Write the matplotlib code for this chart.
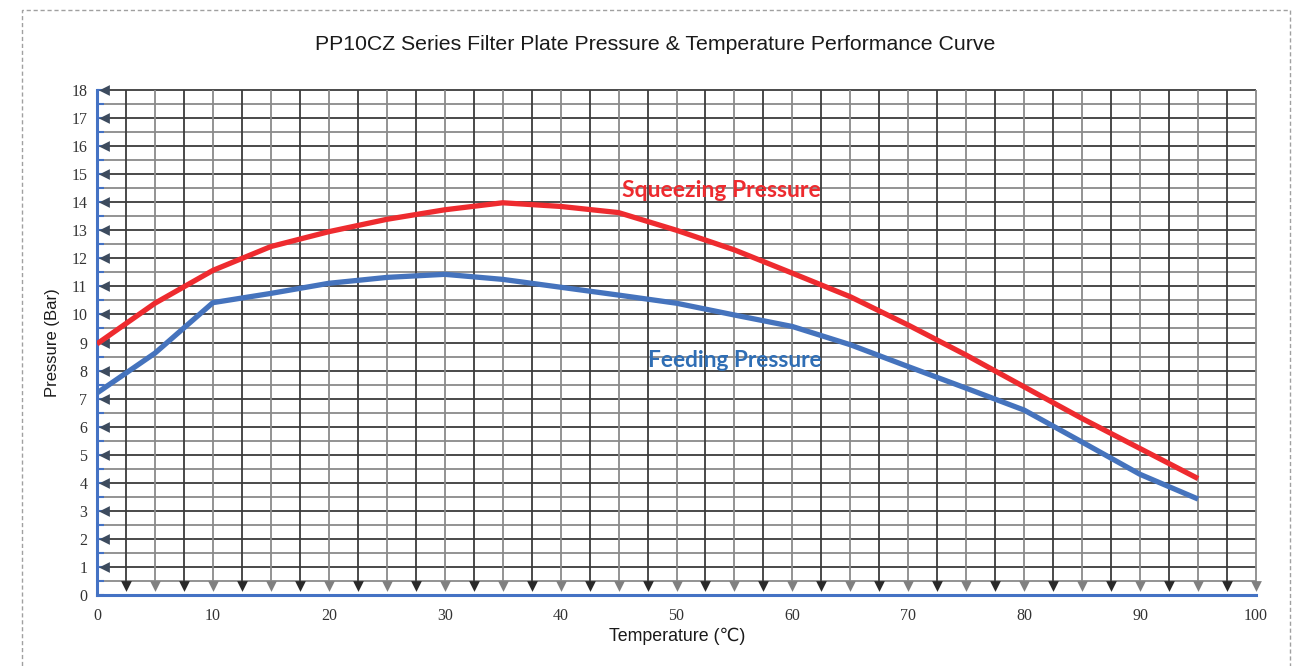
import numpy as np
import matplotlib
matplotlib.use("Agg")
import matplotlib.pyplot as plt
from matplotlib.patches import Rectangle

# ---- data ----
temperature = [0, 5, 10, 15, 20, 25, 30, 35, 40, 45, 50, 55, 60, 65, 70, 75, 80, 85, 90, 95]
squeezing = [8.95, 10.4, 11.57, 12.42, 12.95, 13.39, 13.73, 13.98, 13.85, 13.63, 13.0, 12.3,
             11.47, 10.63, 9.62, 8.55, 7.42, 6.29, 5.22, 4.15]
feeding = [7.2, 8.62, 10.42, 10.75, 11.11, 11.32, 11.43, 11.25, 10.97, 10.69, 10.4, 9.98,
           9.57, 8.92, 8.14, 7.37, 6.59, 5.45, 4.3, 3.42]
x_ticks = [0, 10, 20, 30, 40, 50, 60, 70, 80, 90, 100]
y_ticks = list(range(0, 19))
title = "PP10CZ Series Filter Plate Pressure & Temperature Performance Curve"
x_label = "Temperature (\u2103)"
y_label = "Pressure (Bar)"
label_squeeze = "Squeezing Pressure"
label_feed = "Feeding Pressure"

RED = "#EE2B2F"
BLUE = "#4573BD"
AXBLUE = "#4472C4"
DARK = "#3c3c3c"
GREY = "#8a8a8a"

fig = plt.figure(figsize=(13, 6.66), dpi=100)
fig.patch.set_facecolor("white")

# dashed outer border
fig.add_artist(Rectangle((22 / 1300, -0.2), (1290 - 22) / 1300, 1.2 - 10 / 666,
                         transform=fig.transFigure, fill=False, edgecolor="#a0a0a0",
                         linestyle=(0, (3, 2)), linewidth=1.0))

ax = fig.add_axes([97 / 1300, 1 - 595 / 666, (1256 - 97) / 1300, (595 - 90) / 666])
ax.set_xlim(0, 100)
ax.set_ylim(0, 18)

# grid: horizontal lines (integers dark, halves grey)
ymaj = np.arange(1, 19, 1.0)
ymin = np.arange(0.5, 18, 1.0)
ax.hlines(ymin, 0, 100, colors=GREY, linewidth=1.3, zorder=1, clip_on=False)
ax.hlines(ymaj, 0, 100, colors=DARK, linewidth=1.3, zorder=1.1, clip_on=False)

# vertical lines (odd multiples of 2.5 dark, multiples of 5 grey)
xdark = np.arange(2.5, 100, 5.0)
xgrey = np.arange(5, 100.1, 5.0)
ax.vlines(xdark, 0.35, 18, colors=DARK, linewidth=1.3, zorder=1.2, clip_on=False)
ax.vlines(xgrey, 0.35, 18, colors=GREY, linewidth=1.3, zorder=1.2, clip_on=False)

# down triangles at bottom of vertical lines
ax.scatter(xdark, np.full(len(xdark), 0.32), marker="v", s=60, color="#2a2a2a",
           zorder=3, clip_on=False, linewidths=0)
ax.scatter(xgrey, np.full(len(xgrey), 0.32), marker="v", s=60, color="#808080",
           zorder=3, clip_on=False, linewidths=0)

# left arrows at integer y
ax.scatter(np.full(len(ymaj), 0.6), ymaj, marker="<", s=60, color="#3d4b5e",
           zorder=3, clip_on=False, linewidths=0)

# curves
ax.plot(temperature, squeezing, color=RED, linewidth=3.8, zorder=5, solid_capstyle="butt")
ax.plot(temperature, feeding, color=BLUE, linewidth=3.8, zorder=5, solid_capstyle="butt")

ax.text(53.9, 14.43, label_squeeze, color=RED, fontsize=16.5, fontweight="bold",
        family=["Lato", "DejaVu Sans"], ha="center", va="center", zorder=6)
ax.text(55.0, 8.37, label_feed, color="#2F6EB5", fontsize=16.3, fontweight="bold",
        family=["Lato", "DejaVu Sans"], ha="center", va="center", zorder=6)

# spines
for s in ["top", "right"]:
    ax.spines[s].set_visible(False)
for s in ["left", "bottom"]:
    ax.spines[s].set_color(AXBLUE)
    ax.spines[s].set_linewidth(2.2)
    ax.spines[s].set_zorder(4)

ax.set_xticks(x_ticks)
ax.set_xticklabels([str(v) for v in x_ticks], family=["Liberation Serif", "DejaVu Serif"],
                   fontsize=11.5, color="#333333")
ax.set_yticks(y_ticks)
ax.set_yticklabels([str(v) for v in y_ticks], family=["Liberation Serif", "DejaVu Serif"],
                   fontsize=11.5, color="#333333")
ax.tick_params(axis="x", length=0, pad=9)
ax.tick_params(axis="y", which="major", length=5, width=1.5, direction="in",
               color=AXBLUE, pad=7)
ax.set_yticks(np.arange(0.5, 18, 1.0), minor=True)
ax.tick_params(axis="y", which="minor", length=5, width=1.5, direction="in", color=AXBLUE)

fig.text(655 / 1300, 1 - 45 / 666, title, ha="center", va="center", fontsize=15.3,
         family=["Liberation Sans", "DejaVu Sans"], color="#1a1a1a")
fig.text(677 / 1300, 1 - 636 / 666, x_label, ha="center", va="center", fontsize=12.8,
         family=["Liberation Sans", "DejaVu Sans"], color="#1a1a1a")
fig.text(52 / 1300, 1 - 343 / 666, y_label, ha="center", va="center", fontsize=12,
         rotation=90, family=["Liberation Sans", "DejaVu Sans"], color="#1a1a1a")

fig.savefig("out.png", dpi=100, facecolor="white")
